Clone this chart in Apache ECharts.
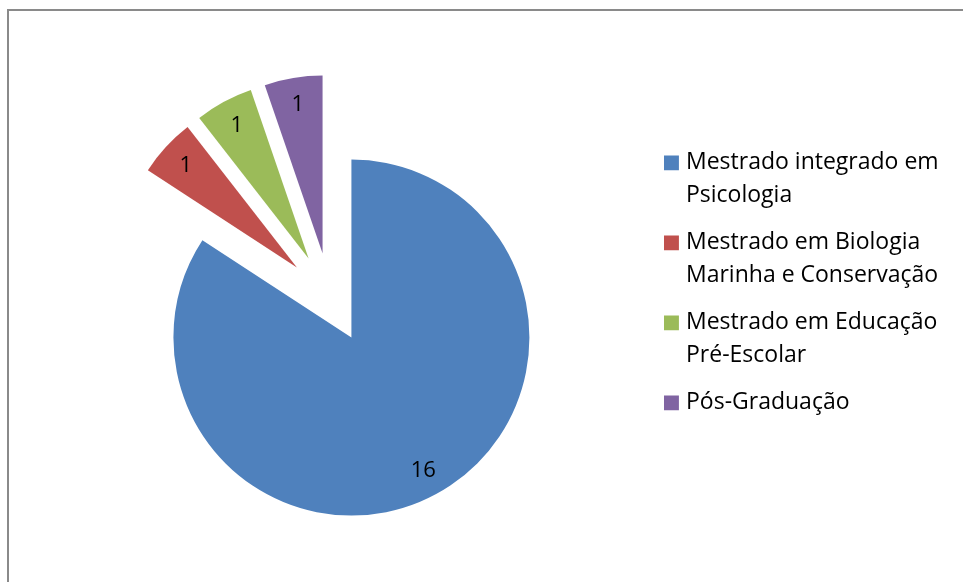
<!DOCTYPE html>
<html>
<head>
<meta charset="utf-8">
<script src="https://cdn.jsdelivr.net/npm/echarts@6/dist/echarts.min.js"></script>
<style>
  html, body { margin: 0; padding: 0; background: #ffffff; }
  #chart { width: 963px; height: 582px; }
</style>
</head>
<body>
<div id="chart"></div>
<script>
// Course categories and how many respondents attend each
const categories = [
  'Mestrado integrado em Psicologia',
  'Mestrado em Biologia Marinha e Conservação',
  'Mestrado em Educação Pré-Escolar',
  'Pós-Graduação'
];
const values = [16, 1, 1, 1];
// Legend text wrapped on two lines, as in the legend box
const legendLabels = [
  'Mestrado integrado em\nPsicologia',
  'Mestrado em Biologia\nMarinha e Conservação',
  'Mestrado em Educação\nPré-Escolar',
  'Pós-Graduação\n'
];
const colors = ['#4F81BD', '#C0504D', '#9BBB59', '#8064A2'];

const fontFamily = "'Open Sans', 'Noto Sans', sans-serif";
const fontSize = 23;
const lineHeight = 33;

// Legend marker: a square at the top of the item box, aligned with the first text line
const markerIcon = 'path://M0,0h15v15h-15z M17,47.4h0.1v0.1h-0.1z';

const chart = echarts.init(document.getElementById('chart'), null, { renderer: 'canvas' });

const pieBase = {
  type: 'pie',
  center: [330, 298],
  startAngle: 90,
  clockwise: true,
  selectedMode: 'multiple',
  selectedOffset: 45,
  animation: false,
  labelLine: { show: false }
};

const sliceData = categories.map((name, i) => ({
  name: name,
  value: values[i],
  selected: true,
  itemStyle: { color: colors[i] }
}));

chart.setOption({
  backgroundColor: '#ffffff',
  animation: false,
  graphic: [{
    type: 'rect',
    shape: { x: 8, y: 10, width: 1200, height: 1000 },
    style: { fill: 'none', stroke: '#8a8a8a', lineWidth: 2 },
    silent: true
  }],
  legend: {
    orient: 'vertical',
    left: 664,
    top: 146,
    padding: 0,
    itemWidth: 17,
    itemHeight: 47.5,
    itemGap: 14,
    selectedMode: false,
    data: categories.map(name => ({ name: name, icon: markerIcon })),
    formatter: name => legendLabels[categories.indexOf(name)],
    textStyle: {
      color: '#000000',
      fontFamily: fontFamily,
      fontSize: fontSize,
      lineHeight: lineHeight
    }
  },
  series: [
    Object.assign({}, pieBase, {
      name: 'Cursos',
      radius: [0, 178],
      label: { show: false },
      itemStyle: { borderWidth: 0 },
      emphasis: { disabled: true },
      data: sliceData
    }),
    // Transparent ring carrying the value labels near the outer edge of each slice
    Object.assign({}, pieBase, {
      name: 'Valores',
      radius: [118, 178],
      silent: true,
      itemStyle: { color: 'rgba(0,0,0,0)', borderWidth: 0 },
      emphasis: { disabled: true },
      label: {
        show: true,
        position: 'inside',
        formatter: '{c}',
        color: '#000000',
        fontFamily: fontFamily,
        fontSize: 22
      },
      data: categories.map((name, i) => ({ name: name, value: values[i], selected: true }))
    })
  ]
});
</script>
</body>
</html>
